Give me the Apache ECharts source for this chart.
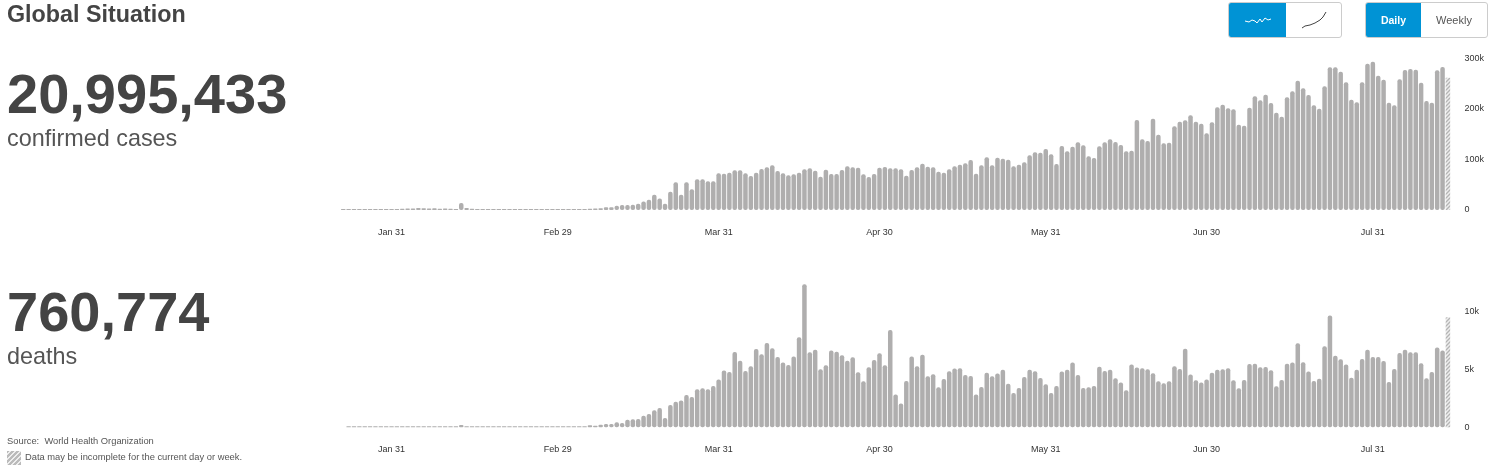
<!DOCTYPE html>
<html>
<head>
<meta charset="utf-8">
<title>Global Situation</title>
<script src="https://cdn.jsdelivr.net/npm/echarts@6/dist/echarts.min.js"></script>
<style>
html, body { margin: 0; padding: 0; background: #fff; }
body { width: 1495px; height: 474px; position: relative; overflow: hidden; font-family: "Liberation Sans", Arial, sans-serif; color: #444; }
#main { position: absolute; left: 0; top: 0; width: 1495px; height: 474px; }
.txt { position: absolute; white-space: nowrap; line-height: 1; }
.title { left: 7px; top: 3px; font-size: 23.3px; font-weight: bold; }
.big { left: 7px; font-size: 56px; font-weight: bold; }
.sub { left: 7px; font-size: 23.4px; color: #555; }
.foot { font-size: 9.35px; color: #555; }
.swatch { position: absolute; left: 7px; top: 451px; width: 14px; height: 14px; background: repeating-linear-gradient(135deg, #bbb 0 2px, #eee 2px 3.5px); }
.group { position: absolute; top: 2px; height: 34px; border: 1px solid #ccc; border-radius: 3px; display: flex; overflow: hidden; box-sizing: content-box; }
.btn { display: flex; align-items: center; justify-content: center; font-size: 11px; color: #555; }
.btn.on { background: #0093d5; color: #fff; font-weight: bold; font-size: 10.5px; }
</style>
</head>
<body>
<div id="main"></div>

<div class="txt title">Global Situation</div>
<div class="txt big" style="top:66px">20,995,433</div>
<div class="txt sub" style="top:127px">confirmed cases</div>
<div class="txt big" style="top:284px">760,774</div>
<div class="txt sub" style="top:345px">deaths</div>
<div class="txt foot" style="left:7px;top:437px">Source:&nbsp; World Health Organization</div>
<div class="swatch"></div>
<div class="txt foot" style="left:25px;top:453px">Data may be incomplete for the current day or week.</div>

<div class="group" style="left:1228px;width:112px">
	<div class="btn on" style="width:57px">
		<svg width="28" height="10"><polyline points="1,6 5,7 8,5 11,6 13,8 16,4 18,7 21,3 24,5 27,4" fill="none" stroke="#fff" stroke-width="1"/></svg>
	</div>
	<div class="btn" style="width:55px">
		<svg width="26" height="18"><polyline points="1,17 4,15 9,14 14,12 19,9 22,6 25,1" fill="none" stroke="#444" stroke-width="1"/></svg>
	</div>
</div>
<div class="group" style="left:1365px;width:121px">
	<div class="btn on" style="width:55px">Daily</div>
	<div class="btn" style="width:66px">Weekly</div>
</div>

<script>
// values in thousands, one bar per day
var confirmedEarly = [0.1,0.1,0.2,0.3,0.4,0.7,0.8,1.3,1.7,1.7,2,2.6,3,3.2,3.8,3.7,3.2,3.4,2.7,3,2.5,2,14,4,2.6,2,1.9,1.8,1.7,0.6,0.6,0.5,0.4,0.4,0.3,0.4,0.5,0.6,0.7,0.8,1,1.2,1.4,1.7,1.9,2.2,2.6,3,3.6];
var confirmedMid = [5.3,5.3,8.6,10,10,10.6,12.5,17,20.5,30,23,12.5,36,55,30,55,41,61,61,57,57,73,72,74,78.5,
	78.5,72.6,67.3,73.9,81.2,84.5,88.4,77.2,72.6,68.6,70.6,73.9,80.5,82.5,77.9,66,79.9,71.3,71.3,79.2,86.5,84.5,83.8,70.6,65.3,71.3,83.8,85.1,82.5,82.5,80.5,68,79.2,84.5,91.7,85.8,84.5,75.9,73.9,80.5,86.5,89.8,92.4,99,71.9,88.4,104.3,88.4,103.6,101.7,99.7,86.5,89.8,94.4,108.3,114.2,113.5,120.8,110.2,91.1,126.7,116.2,125.4,134,128,106.3,103,126,134,139.9];
var confirmedLate = [134.7,128.7,116.2,117.5,178.2,139.9,136.6,180.9,149.2,132,133.3,165.7,174.9,177.6,187.5,174.9,171,151.8,173.6,203.3,208.6,201.3,199.3,169,167,202.6,225.1,217.2,228.4,211.9,192.7,184.8,223.1,235,256.1,240.9,227.7,207.3,200.7,244.9,282.5,282.5,273.9,252.8,218.5,213.2,252.8,289.8,293.7,266,258.1,212.5,207.3,258.7,277.2,279.2,277.9,252.1,215.8,212.5,276.6,283.2,262];

var deathsEarly = [null,0.02,0.02,0.03,0.03,0.04,0.05,0.05,0.06,0.07,0.08,0.08,0.09,0.1,0.1,0.1,0.1,0.1,0.1,0.1,0.1,0.1,0.2,0.03,0.07,0.07,0.06,0.05,0.06,0.08,0.07,0.06,0.05,0.1,0.03,0.03,0.03,0.03,0.03,0.04,0.05,0.05,0.05,0.06,0.06,0.06];
var deathsMid = [0.17,0.14,0.23,0.29,0.29,0.43,0.38,0.66,0.69,0.72,1.01,1.15,1.47,1.67,0.81,1.93,2.22,2.31,2.8,2.63,3.29,3.38,3.29,3.58,4.13,4.91,4.79,6.52,
	5.77,4.88,5.28,6.78,6.32,7.3,6.84,6.09,5.6,5.4,6.12,7.79,12.38,6.49,6.72,5.02,5.37,6.64,6.55,6.23,5.77,6.06,4.76,3.98,5.19,5.83,6.41,5.37,8.43,2.83,2.05,4.01,6.12,5.28,6.29,4.42,4.59,3.46,4.18,4.85,5.08,5.11,4.53,4.44,2.83,3.49,4.73,4.42,4.65,4.99,3.78,2.97,3.41,4.36,4.99,4.85,4.27,3.72,2.97,3.58,4.82,4.99,5.6,4.53,3.41,3.46,3.58,5.25,4.88,4.99];
var deathsLate = [4.24,3.87,3.2,5.43,5.17,5.11,5.02,4.68,3.98,3.81,3.98,5.28,5.05,6.81,4.56,4.07,3.87,4.13,4.73,4.99,5.02,5.11,4.07,3.38,4.1,5.48,5.51,5.19,5.22,4.94,3.55,4.1,5.51,5.6,7.27,5.63,4.82,4.01,4.21,7.01,9.67,6.2,5.89,5.43,4.3,4.99,5.92,6.72,6.09,6.09,5.74,3.92,5.05,6.44,6.72,6.49,6.49,5.54,4.24,4.79,6.9,6.64,9.52];

var confirmed = confirmedEarly.concat(confirmedMid, confirmedLate);
var deaths = deathsEarly.concat(deathsMid, deathsLate);

var tickIndex = [9,40,70,100,131,161,192];
var tickLabels = ['Jan 31','Feb 29','Mar 31','Apr 30','May 31','Jun 30','Jul 31'];

var barColor = '#afaeae';

// hatch for the last, incomplete day
function hatch(){
	var c = document.createElement('canvas');
	c.width = 4; c.height = 4;
	var g = c.getContext('2d');
	g.fillStyle = '#eeeeee';
	g.fillRect(0,0,4,4);
	g.strokeStyle = '#b5b5b5';
	g.lineWidth = 1.3;
	g.beginPath();
	g.moveTo(-1,1); g.lineTo(1,-1);
	g.moveTo(0,4); g.lineTo(4,0);
	g.moveTo(3,5); g.lineTo(5,3);
	g.stroke();
	return c;
}

function barData(values){
	return values.map(function(v, i){
		if (i == values.length - 1) {
			return { value: v, itemStyle: { color: { image: hatch(), repeat: 'repeat' }, borderRadius: 0 } };
		}
		return v;
	});
}

function xAxisFor(gridIndex, count){
	var cats = [];
	for (var i = 0; i < count; i++) cats.push(String(i));
	return {
		type: 'category',
		gridIndex: gridIndex,
		data: cats,
		axisLine: { show: false },
		axisTick: { show: false },
		axisLabel: {
			margin: 18,
			fontSize: 9,
			color: '#333',
			fontFamily: 'Liberation Sans',
			hideOverlap: false,
			interval: function(i){ return tickIndex.indexOf(i) >= 0; },
			formatter: function(v, i){ return tickLabels[tickIndex.indexOf(i)]; }
		}
	};
}

function yAxisFor(gridIndex, max, interval){
	return {
		type: 'value',
		gridIndex: gridIndex,
		position: 'right',
		min: 0,
		max: max,
		interval: interval,
		splitLine: { show: false },
		axisLine: { show: false },
		axisTick: { show: false },
		axisLabel: {
			margin: 14,
			fontSize: 9,
			color: '#333',
			fontFamily: 'Liberation Sans',
			showMaxLabel: max % interval == 0,
			formatter: function(v){ return v ? v + 'k' : '0'; }
		}
	};
}

function seriesFor(gridIndex, values){
	return {
		type: 'bar',
		xAxisIndex: gridIndex,
		yAxisIndex: gridIndex,
		data: barData(values),
		barWidth: 4.5,
		barMinHeight: 1,
		itemStyle: { color: barColor, borderRadius: 2 },
		silent: true,
		animation: false
	};
}

var myChart = echarts.init(document.getElementById('main'));
myChart.setOption({
	animation: false,
	grid: [
		{ left: 340.6, width: 1110, top: 58.5, height: 151.5 },
		{ left: 340.6, width: 1110, top: 282.9, height: 144.4 }
	],
	xAxis: [ xAxisFor(0, confirmed.length), xAxisFor(1, deaths.length) ],
	yAxis: [ yAxisFor(0, 300, 100), yAxisFor(1, 12.5, 5) ],
	series: [ seriesFor(0, confirmed), seriesFor(1, deaths) ]
});
</script>
</body>
</html>
